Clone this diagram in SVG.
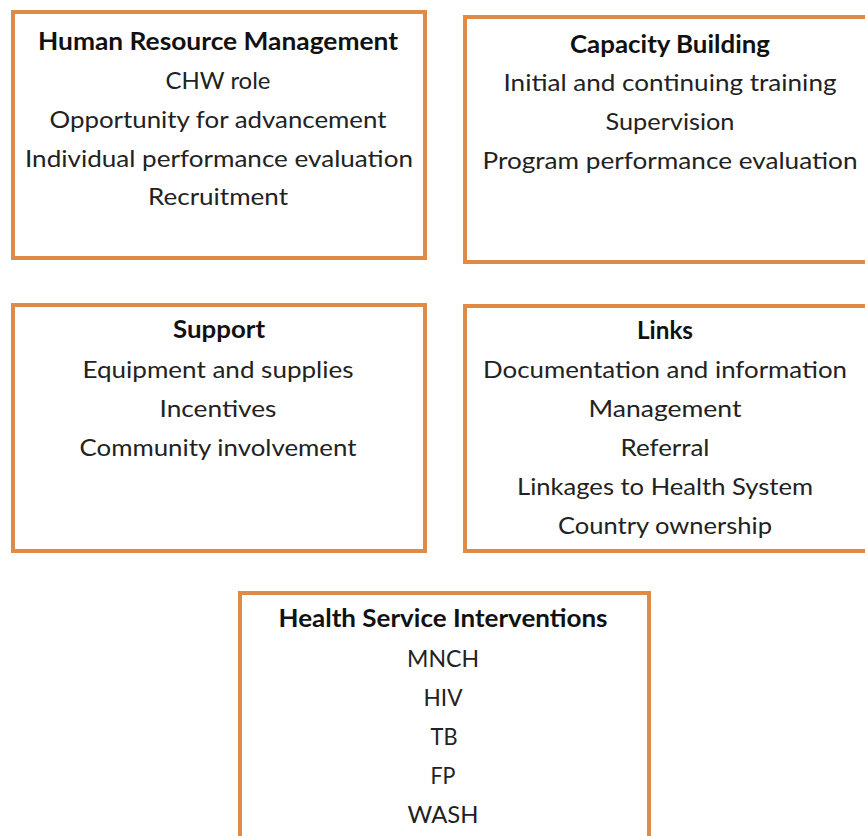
<svg xmlns="http://www.w3.org/2000/svg" width="865" height="836" viewBox="0 0 865 836">
<style>
.box{fill:#ffffff;stroke:#DF8A47;stroke-width:4}
.t{font-family:Lato,"Open Sans","Liberation Sans",sans-serif;font-size:24px;fill:#222222;text-anchor:middle}
.h{font-weight:bold;fill:#111111}
</style>
<rect x="0" y="0" width="865" height="836" fill="#ffffff"/>
<g id="hrm">
<rect class="box" x="13" y="12" width="412" height="246"/>
<text class="t h" x="218" y="50" textLength="360" lengthAdjust="spacingAndGlyphs">Human Resource Management</text>
<text class="t" x="218" y="89" textLength="105" lengthAdjust="spacingAndGlyphs">CHW role</text>
<text class="t" x="218" y="128" textLength="337" lengthAdjust="spacingAndGlyphs">Opportunity for advancement</text>
<text class="t" x="219" y="167" textLength="388" lengthAdjust="spacingAndGlyphs">Individual performance evaluation</text>
<text class="t" x="218" y="205" textLength="140" lengthAdjust="spacingAndGlyphs">Recruitment</text>
</g>
<g id="capacity">
<rect class="box" x="465" y="17" width="410" height="245"/>
<text class="t h" x="670" y="53" textLength="200" lengthAdjust="spacingAndGlyphs">Capacity Building</text>
<text class="t" x="670" y="91" textLength="333" lengthAdjust="spacingAndGlyphs">Initial and continuing training</text>
<text class="t" x="670" y="130" textLength="129" lengthAdjust="spacingAndGlyphs">Supervision</text>
<text class="t" x="670" y="169" textLength="375" lengthAdjust="spacingAndGlyphs">Program performance evaluation</text>
</g>
<g id="support">
<rect class="box" x="13" y="305" width="412" height="246"/>
<text class="t h" x="219" y="338" textLength="92" lengthAdjust="spacingAndGlyphs">Support</text>
<text class="t" x="218" y="378" textLength="271" lengthAdjust="spacingAndGlyphs">Equipment and supplies</text>
<text class="t" x="218" y="417" textLength="117" lengthAdjust="spacingAndGlyphs">Incentives</text>
<text class="t" x="218" y="456" textLength="277" lengthAdjust="spacingAndGlyphs">Community involvement</text>
</g>
<g id="links">
<rect class="box" x="465" y="306" width="410" height="245"/>
<text class="t h" x="665" y="339" textLength="56" lengthAdjust="spacingAndGlyphs">Links</text>
<text class="t" x="665" y="378" textLength="364" lengthAdjust="spacingAndGlyphs">Documentation and information</text>
<text class="t" x="665" y="417" textLength="153" lengthAdjust="spacingAndGlyphs">Management</text>
<text class="t" x="665" y="456" textLength="89" lengthAdjust="spacingAndGlyphs">Referral</text>
<text class="t" x="665" y="495" textLength="296" lengthAdjust="spacingAndGlyphs">Linkages to Health System</text>
<text class="t" x="665" y="534" textLength="214" lengthAdjust="spacingAndGlyphs">Country ownership</text>
</g>
<g id="health">
<rect class="box" x="240" y="593" width="409" height="260"/>
<text class="t h" x="443" y="627" textLength="329" lengthAdjust="spacingAndGlyphs">Health Service Interventions</text>
<text class="t" x="443" y="667" textLength="72" lengthAdjust="spacingAndGlyphs">MNCH</text>
<text class="t" x="443" y="706" textLength="39" lengthAdjust="spacingAndGlyphs">HIV</text>
<text class="t" x="444" y="745" textLength="27" lengthAdjust="spacingAndGlyphs">TB</text>
<text class="t" x="443" y="784" textLength="25" lengthAdjust="spacingAndGlyphs">FP</text>
<text class="t" x="443" y="823" textLength="71" lengthAdjust="spacingAndGlyphs">WASH</text>
</g>
<g id="connectors"></g>
</svg>
